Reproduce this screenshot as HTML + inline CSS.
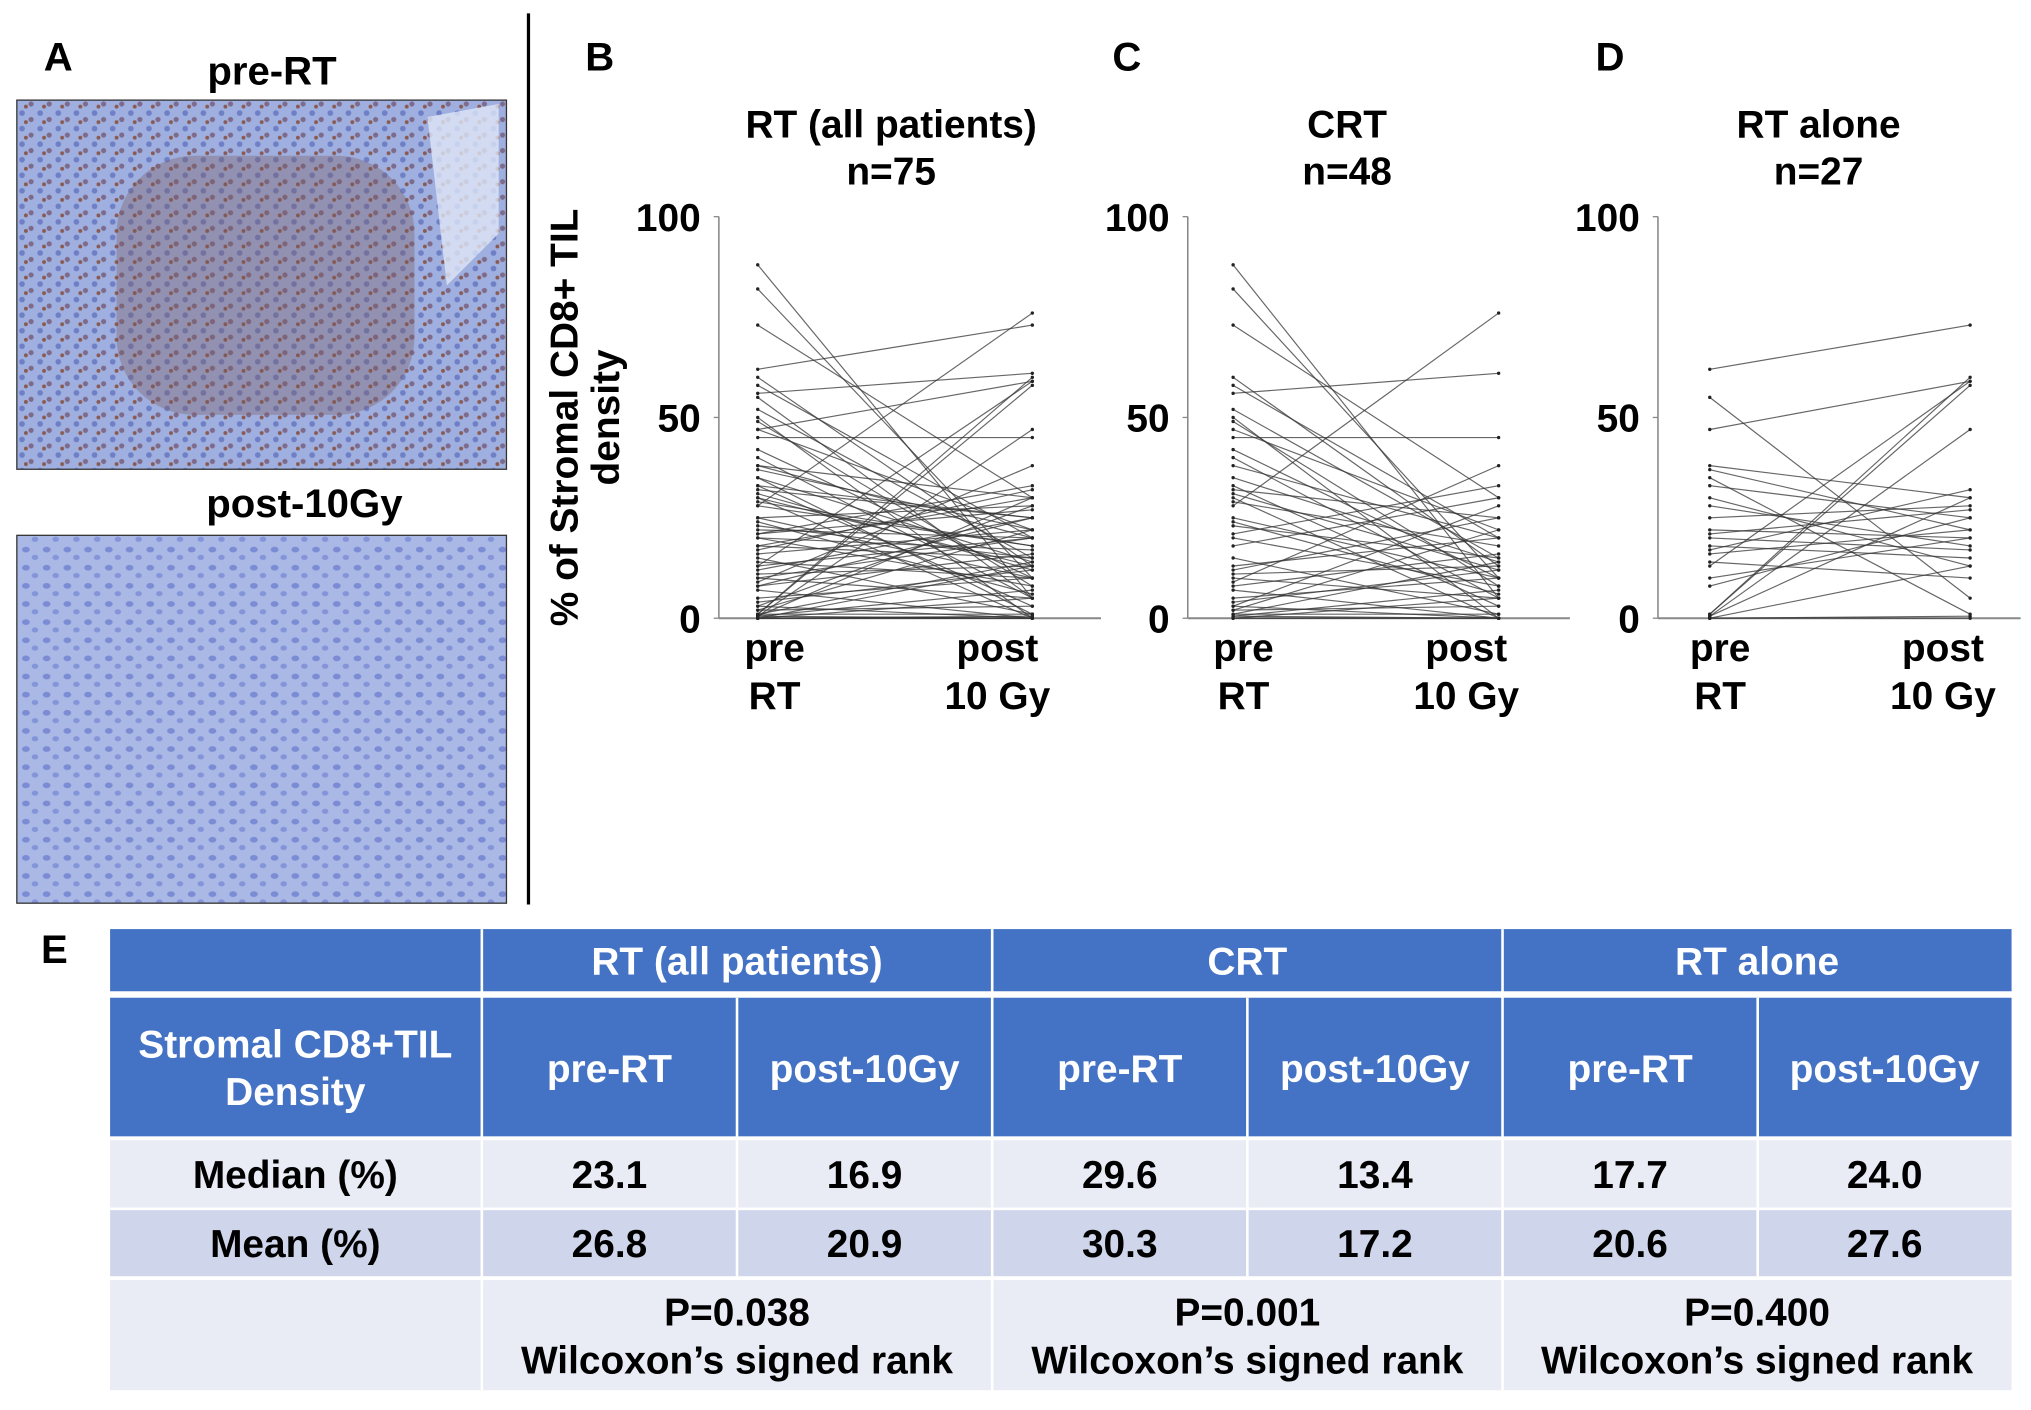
<!DOCTYPE html>
<html><head><meta charset="utf-8"><style>
html,body{margin:0;padding:0;background:#fff;}
svg{display:block;font-family:"Liberation Sans",Arial,sans-serif;font-weight:bold;}
</style></head><body>
<svg id="fig" width="2031" height="1410" viewBox="0 0 1568 1088" xmlns="http://www.w3.org/2000/svg">
<defs>
<pattern id="cellsA" width="14" height="12" patternUnits="userSpaceOnUse">
<rect width="14" height="12" fill="#9fb0e0"/>
<circle cx="3" cy="3" r="2.2" fill="#6f7fc6"/><circle cx="10" cy="8" r="2" fill="#7e6a8a"/><circle cx="6" cy="10" r="1.5" fill="#8a5a50"/>
</pattern>
<pattern id="cellsB" width="16" height="14" patternUnits="userSpaceOnUse">
<rect width="16" height="14" fill="#aab8e6"/>
<ellipse cx="4" cy="4" rx="3" ry="2.2" fill="#7b8bd4"/><ellipse cx="11" cy="10" rx="2.5" ry="2" fill="#8494d8"/>
</pattern>
</defs>
<text x="45" y="54" font-size="31" text-anchor="middle">A</text>
<text x="210" y="65" font-size="31" text-anchor="middle">pre-RT</text>
<rect x="13" y="77" width="378" height="285" fill="url(#cellsA)" stroke="#333" stroke-width="1"/>
<rect x="90" y="120" width="230" height="200" fill="#7a5a5a" opacity="0.35" rx="60"/>
<polygon points="330,90 385,80 385,180 345,220" fill="#dfe6f5" opacity="0.8"/>
<text x="235" y="399" font-size="31" text-anchor="middle">post-10Gy</text>
<rect x="13" y="413" width="378" height="284" fill="url(#cellsB)" stroke="#333" stroke-width="1"/>
<line x1="408" y1="10" x2="408" y2="698" stroke="#000" stroke-width="2.5"/>
<g transform="translate(446,322) rotate(-90)">
<text x="0" y="0" font-size="30" text-anchor="middle">% of Stromal CD8+ TIL</text>
<text x="0" y="32" font-size="30" text-anchor="middle">density</text>
</g>
<g id="charts"></g>
<g id="table"></g>
</svg>
<script>
// Data
const panelLabels = ["B", "C", "D"];
const panelTitles = ["RT (all patients)", "CRT", "RT alone"];
const panelN = ["n=75", "n=48", "n=27"];
const yTicks = [0, 50, 100];
const crtPre = [88,82,73,60,58,56,52,50,49,47,45,42,40,38,35,33,32,31,30,29,28,25,24,23,21,20,18,15,13,12,11,10,9,8,7,5,4,3,3,2,2,1,1,0.5,0.5,0,0,0];
const crtPost = [5,10,30,13,20,61,15,0,8,22,45,10,5,20,14,3,25,12,0,18,76,10,6,15,33,8,30,1,20,25,13,5,38,16,0,10,12,28,0,22,3,14,1,7,0,5,0,0];
const alonePre = [62,55,47,38,37,35,33,30,28,25,22,21,20,18,17,16,14,13,10,8,1,1,0.5,0.5,0,0,0];
const alonePost = [73,5,59,30,22,1,25,13,18,28,20,27,17,15,32,22,10,59,20,25,60,58,47,30,0,0.5,13];
const tableGroups = ["RT (all patients)", "CRT", "RT alone"];
const medians = ["23.1","16.9","29.6","13.4","17.7","24.0"];
const means = ["26.8","20.9","30.3","17.2","20.6","27.6"];
const pvals = ["P=0.038","P=0.001","P=0.400"];

const NS = "http://www.w3.org/2000/svg";
function mk(tag, attrs, parent, txt){const e=document.createElementNS(NS,tag);for(const k in attrs)e.setAttribute(k,attrs[k]);if(txt!==undefined)e.textContent=txt;parent.appendChild(e);return e;}
const allPre = crtPre.concat(alonePre), allPost = crtPost.concat(alonePost);
const series = [[allPre,allPost],[crtPre,crtPost],[alonePre,alonePost]];
const geo = [{ax:555,pre:585,post:797,end:850,lab:463,tc:688,pl:598,ql:770},
             {ax:917,pre:952,post:1157,end:1212,lab:870,tc:1040,pl:960,ql:1132},
             {ax:1280,pre:1320,post:1521,end:1560,lab:1243,tc:1404,pl:1328,ql:1500}];
const y = v => 477 - v*3.1;
const charts = document.getElementById('charts');
geo.forEach((g,i)=>{
  const grp = mk('g',{},charts);
  
  
  let t = mk('text',{x:g.lab,y:54,'font-size':31,'text-anchor':'middle'},grp,panelLabels[i]);
   
  t = mk('text',{x:g.tc,y:106,'font-size':30,'text-anchor':'middle'},grp,panelTitles[i]);
   
  t = mk('text',{x:g.tc,y:142,'font-size':30,'text-anchor':'middle'},grp,panelN[i]);
   
  let l = mk('line',{x1:g.ax,y1:y(100),x2:g.ax,y2:y(0),stroke:'#888','stroke-width':1.2},grp);
   
  l = mk('line',{x1:g.ax,y1:y(0),x2:g.end,y2:y(0),stroke:'#888','stroke-width':1.5},grp);
   
  yTicks.forEach(v=>{
    const tk = mk('line',{x1:g.ax-4,y1:y(v),x2:g.ax,y2:y(v),stroke:'#888'},grp);
     
    const tl = mk('text',{x:g.ax-14,y:y(v)+11,'font-size':30,'text-anchor':'end'},grp,String(v));
     
  });
  [['pre',g.pl,510],['RT',g.pl,547],['post',g.ql,510],['10 Gy',g.ql,547]].forEach(a=>{
    const xl = mk('text',{x:a[1],y:a[2],'font-size':30,'text-anchor':'middle'},grp,a[0]);
     
  });
  const [pre,post] = series[i];
  pre.forEach((v,k)=>{
    const ln = mk('line',{x1:g.pre,y1:y(v),x2:g.post,y2:y(post[k]),stroke:'#333','stroke-opacity':0.75,'stroke-width':0.9},grp);
     
    const d1 = mk('circle',{cx:g.pre,cy:y(v),r:1.3,fill:'#222'},grp);
     
    const d2 = mk('circle',{cx:g.post,cy:y(post[k]),r:1.3,fill:'#222'},grp);
     
  });
});
const tb = document.getElementById('table');
let e = mk('text',{x:42,y:743,'font-size':31,'text-anchor':'middle'},tb,'E');
 
const cols = [85,372,569,766,963,1160,1357,1553];
const rows = [[717,765,'#4472C4'],[770,877,'#4472C4'],[880,932,'#E9EBF5'],[934,985,'#CFD5EA'],[988,1073,'#E9EBF5']];
rows.forEach((r,ri)=>{
  const bg = mk('rect',{x:85,y:r[0],width:1468,height:r[1]-r[0],fill:r[2]},tb);
   
});
[372,766,1160].forEach(x=>{const d=mk('line',{x1:x,y1:717,x2:x,y2:1073,stroke:'#fff','stroke-width':2},tb);});
[569,963,1357].forEach(x=>{const d=mk('line',{x1:x,y1:770,x2:x,y2:985,stroke:'#fff','stroke-width':2},tb);});
function txt(x,yy,s,fill,name){const t=mk('text',{x:x,y:yy,'font-size':30,'text-anchor':'middle',fill:fill},tb,s);}
tableGroups.forEach((g,i)=>txt((cols[1+2*i]+cols[3+2*i])/2,752,g,'#fff','group-header'));
txt(228,816,'Stromal CD8+TIL','#fff','row-header-title');
txt(228,853,'Density','#fff','row-header-title');
for(let i=0;i<6;i++){
  const cx=(cols[1+i]+cols[2+i])/2;
  txt(cx,835,i%2?'post-10Gy':'pre-RT','#fff','sub-header');
  txt(cx,917,medians[i],'#000','median-value');
  txt(cx,970,means[i],'#000','mean-value');
}
txt(228,917,'Median (%)','#000','median-label');
txt(228,970,'Mean (%)','#000','mean-label');
pvals.forEach((p,i)=>{const cx=(cols[1+2*i]+cols[3+2*i])/2;txt(cx,1023,p,'#000','p-value');txt(cx,1060,'Wilcoxon\u2019s signed rank','#000','test-name');});
</script>
</body></html>
